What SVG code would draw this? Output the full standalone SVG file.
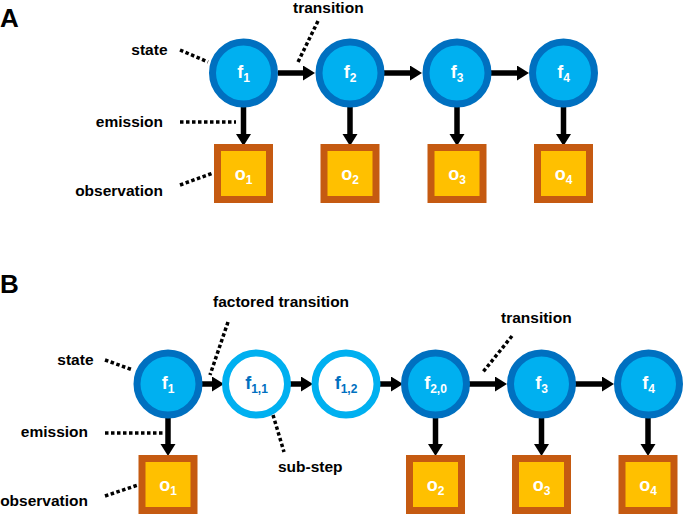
<svg xmlns="http://www.w3.org/2000/svg" width="684" height="515" viewBox="0 0 684 515">
<defs>
<style>
.st{fill:#00B0F0;stroke:#0070C0;stroke-width:7}
.sub{fill:#FFFFFF;stroke:#00B0F0;stroke-width:7}
.ob{fill:#FFC000;stroke:#C55A11;stroke-width:7}
.nl{font-family:"Liberation Sans",Arial,sans-serif;font-weight:bold;font-size:18px;fill:#FFFFFF;text-anchor:middle}
.nb{font-family:"Liberation Sans",Arial,sans-serif;font-weight:bold;font-size:18px;fill:#0070C0;text-anchor:middle}
.lb{font-family:"Liberation Sans",Arial,sans-serif;font-weight:bold;font-size:15.5px;fill:#000000}
.pl{font-family:"Liberation Sans",Arial,sans-serif;font-weight:bold;font-size:26px;fill:#000000}
.ar{stroke:#000;stroke-width:5.5;fill:none;marker-end:url(#ah)}
.dt{stroke:#000;stroke-width:3.5;stroke-dasharray:3.5 2.5;fill:none}
</style>
<marker id="ah" markerUnits="userSpaceOnUse" markerWidth="14" markerHeight="16" refX="2" refY="7.5" orient="auto">
<path d="M0,0 L12,7.5 L0,15 Z" fill="#000"/>
</marker>
</defs>
<rect width="684" height="515" fill="#FFFFFF"/>

<text class="pl" x="0" y="27">A</text>
<text class="pl" x="0" y="293">B</text>

<g id="connectors">
<line class="ar" x1="278" y1="73" x2="305" y2="73"/>
<line class="ar" x1="384" y1="73" x2="412" y2="73"/>
<line class="ar" x1="491" y1="73" x2="519" y2="73"/>
<line class="ar" x1="243.5" y1="107" x2="243.5" y2="136"/>
<line class="ar" x1="350" y1="107" x2="350" y2="136"/>
<line class="ar" x1="457" y1="107" x2="457" y2="136"/>
<line class="ar" x1="563.5" y1="107" x2="563.5" y2="136"/>

<line class="ar" x1="202" y1="384" x2="214" y2="384"/>
<line class="ar" x1="290" y1="384" x2="303" y2="384"/>
<line class="ar" x1="379" y1="384" x2="393" y2="384"/>
<line class="ar" x1="469" y1="384" x2="497" y2="384"/>
<line class="ar" x1="575" y1="384" x2="604" y2="384"/>
<line class="ar" x1="168" y1="418" x2="168" y2="446"/>
<line class="ar" x1="435.5" y1="418" x2="435.5" y2="446"/>
<line class="ar" x1="541.5" y1="418" x2="541.5" y2="446"/>
<line class="ar" x1="648" y1="418" x2="648" y2="446"/>

<line class="dt" x1="180" y1="50" x2="208" y2="62"/>
<line class="dt" x1="318" y1="21" x2="298" y2="62"/>
<line class="dt" x1="180" y1="122" x2="236" y2="122"/>
<line class="dt" x1="180" y1="185" x2="213" y2="173"/>
<line class="dt" x1="105" y1="360" x2="133" y2="370"/>
<line class="dt" x1="228" y1="322" x2="210" y2="375"/>
<line class="dt" x1="105" y1="433" x2="163" y2="433"/>
<line class="dt" x1="105" y1="496" x2="138" y2="485"/>
<line class="dt" x1="273" y1="415" x2="284" y2="452"/>
<line class="dt" x1="512" y1="336" x2="483" y2="372"/>
</g>

<g id="labels">
<text class="lb" x="167.5" y="55" text-anchor="end">state</text>
<text class="lb" x="293" y="13">transition</text>
<text class="lb" x="163" y="127" text-anchor="end">emission</text>
<text class="lb" x="163" y="196" text-anchor="end">observation</text>
<text class="lb" x="93.5" y="365" text-anchor="end">state</text>
<text class="lb" x="213" y="307">factored transition</text>
<text class="lb" x="88" y="437" text-anchor="end">emission</text>
<text class="lb" x="88" y="506" text-anchor="end">observation</text>
<text class="lb" x="278" y="471.5">sub-step</text>
<text class="lb" x="501" y="323">transition</text>
</g>

<g id="A-f1"><circle class="st" cx="243.5" cy="73" r="31"/><text class="nl" x="243.5" y="78">f<tspan dy="4" font-size="12">1</tspan></text></g>
<g id="A-f2"><circle class="st" cx="350" cy="73" r="31"/><text class="nl" x="350" y="78">f<tspan dy="4" font-size="12">2</tspan></text></g>
<g id="A-f3"><circle class="st" cx="457" cy="73" r="31"/><text class="nl" x="457" y="78">f<tspan dy="4" font-size="12">3</tspan></text></g>
<g id="A-f4"><circle class="st" cx="563.5" cy="73" r="31"/><text class="nl" x="563.5" y="78">f<tspan dy="4" font-size="12">4</tspan></text></g>

<g id="A-o1"><rect class="ob" x="217.5" y="147.5" width="52" height="52"/><text class="nl" x="243.5" y="180">o<tspan dy="4" font-size="12">1</tspan></text></g>
<g id="A-o2"><rect class="ob" x="324" y="147.5" width="52" height="52"/><text class="nl" x="350" y="180">o<tspan dy="4" font-size="12">2</tspan></text></g>
<g id="A-o3"><rect class="ob" x="431" y="147.5" width="52" height="52"/><text class="nl" x="457" y="180">o<tspan dy="4" font-size="12">3</tspan></text></g>
<g id="A-o4"><rect class="ob" x="537.5" y="147.5" width="52" height="52"/><text class="nl" x="563.5" y="180">o<tspan dy="4" font-size="12">4</tspan></text></g>

<g id="B-f1"><circle class="st" cx="168" cy="384" r="31"/><text class="nl" x="168" y="389">f<tspan dy="4" font-size="12">1</tspan></text></g>
<g id="B-f11"><circle class="sub" cx="256.5" cy="384" r="31"/><text class="nb" x="256.5" y="389">f<tspan dy="4" font-size="12">1,1</tspan></text></g>
<g id="B-f12"><circle class="sub" cx="346" cy="384" r="31"/><text class="nb" x="346" y="389">f<tspan dy="4" font-size="12">1,2</tspan></text></g>
<g id="B-f20"><circle class="st" cx="435.5" cy="384" r="31"/><text class="nl" x="435.5" y="389">f<tspan dy="4" font-size="12">2,0</tspan></text></g>
<g id="B-f3"><circle class="st" cx="541.5" cy="384" r="31"/><text class="nl" x="541.5" y="389">f<tspan dy="4" font-size="12">3</tspan></text></g>
<g id="B-f4"><circle class="st" cx="648.5" cy="384" r="31"/><text class="nl" x="648.5" y="389">f<tspan dy="4" font-size="12">4</tspan></text></g>

<g id="B-o1"><rect class="ob" x="142" y="458.5" width="52" height="52"/><text class="nl" x="168" y="491">o<tspan dy="4" font-size="12">1</tspan></text></g>
<g id="B-o2"><rect class="ob" x="409.5" y="458.5" width="52" height="52"/><text class="nl" x="435.5" y="491">o<tspan dy="4" font-size="12">2</tspan></text></g>
<g id="B-o3"><rect class="ob" x="515.5" y="458.5" width="52" height="52"/><text class="nl" x="541.5" y="491">o<tspan dy="4" font-size="12">3</tspan></text></g>
<g id="B-o4"><rect class="ob" x="622" y="458.5" width="52" height="52"/><text class="nl" x="648" y="491">o<tspan dy="4" font-size="12">4</tspan></text></g>
</svg>
